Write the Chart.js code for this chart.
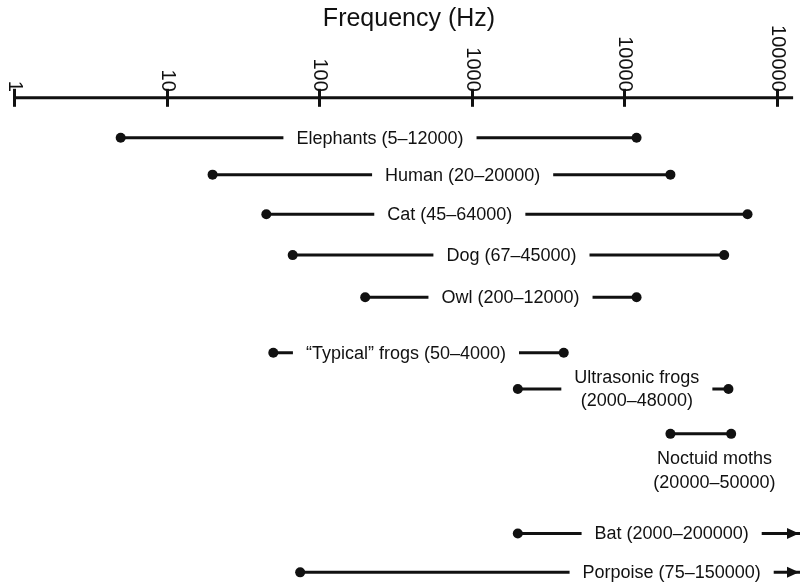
<!DOCTYPE html>
<html>
<head>
<meta charset="utf-8">
<script src="https://cdn.jsdelivr.net/npm/chart.js@4.4.1/dist/chart.umd.min.js"></script>
<style>
  html, body { margin: 0; padding: 0; background: #fff; }
  #wrap { width: 805px; height: 587px; position: relative; }
</style>
</head>
<body>
<div id="wrap"><canvas id="c"></canvas></div>
<script>
// Hearing ranges (Hz)
const animals = ['Elephants', 'Human', 'Cat', 'Dog', 'Owl', '\u201CTypical\u201D frogs',
                 'Ultrasonic frogs', 'Noctuid moths', 'Bat', 'Porpoise'];
const lowHz  = [5, 20, 45, 67, 200, 50, 2000, 20000, 2000, 75];
const highHz = [12000, 20000, 64000, 45000, 12000, 4000, 48000, 50000, 200000, 150000];

// Vertical lane of each range (grouped: mammals & birds, frogs, moths, echolocators)
const rowLevel = [0, 2.8, 5.8, 8.9, 12.1, 16.3, 19.05, 22.45, 30.0, 32.95];

// Decade ticks of the frequency axis
const tickHz = [1, 10, 100, 1000, 10000, 100000];
const tickLabels = ['1', '10', '100', '1000', '10000', '100000'];

// Label placement along the axis (Hz) and how each label is set
const labelAnchorHz = [250, 870, 717, 1817, 1791, 370, 12050, 38840, 20370, 20370];
const labelMode = { 6: 'split', 7: 'below' };

const FONT = '"Liberation Sans", Arial, Helvetica, sans-serif';
const INK = '#111';

const datasets = animals.map((name, i) => ({
  label: name,
  data: [{ x: lowHz[i], y: rowLevel[i] }, { x: highHz[i], y: rowLevel[i] }],
  showLine: true,
  borderColor: INK,
  borderWidth: 3,
  borderCapStyle: 'butt',
  pointBackgroundColor: INK,
  pointBorderWidth: 0,
  pointRadius: highHz[i] > 141000 ? [5, 0] : 5
}));

const annotations = {
  id: 'rangeAnnotations',
  afterDraw(chart) {
    const { ctx, chartArea, scales } = chart;
    const xs = scales.x, ys = scales.y;
    ctx.save();

    // frequency axis with crossing decade ticks
    const axisY = chartArea.top - 13;
    const x0 = xs.getPixelForValue(tickHz[0]);
    const x1 = xs.getPixelForValue(tickHz[tickHz.length - 1]) + 16;
    ctx.strokeStyle = INK;
    ctx.lineWidth = 3;
    ctx.beginPath();
    ctx.moveTo(x0, axisY);
    ctx.lineTo(x1, axisY);
    ctx.stroke();
    ctx.font = `20px ${FONT}`;
    ctx.fillStyle = INK;
    tickHz.forEach((v, k) => {
      const tx = Math.round(xs.getPixelForValue(v)) + 0.5;
      ctx.beginPath();
      ctx.moveTo(tx, axisY - 9);
      ctx.lineTo(tx, axisY + 9);
      ctx.stroke();
      ctx.save();
      ctx.translate(tx, axisY - 6);
      ctx.rotate(Math.PI / 2);
      ctx.textAlign = 'right';
      ctx.textBaseline = 'middle';
      ctx.fillText(tickLabels[k], 0, 0);
      ctx.restore();
    });

    // range labels
    ctx.font = `18px ${FONT}`;
    ctx.textAlign = 'center';
    ctx.textBaseline = 'middle';
    const pad = 13;
    animals.forEach((name, i) => {
      const range = `(${lowHz[i]}\u2013${highHz[i]})`;
      const px = xs.getPixelForValue(labelAnchorHz[i]);
      const py = ys.getPixelForValue(rowLevel[i]);
      const mode = labelMode[i] || 'inline';
      if (mode === 'inline') {
        const text = `${name} ${range}`;
        const w = ctx.measureText(text).width;
        ctx.fillStyle = '#fff';
        ctx.fillRect(px - w / 2 - pad, py - 7, w + 2 * pad, 14);
        ctx.fillStyle = INK;
        ctx.fillText(text, px, py + 1);
      } else if (mode === 'split') {
        const w = Math.max(ctx.measureText(name).width, ctx.measureText(range).width);
        ctx.fillStyle = '#fff';
        ctx.fillRect(px - w / 2 - pad, py - 7, w + 2 * pad, 14);
        ctx.fillStyle = INK;
        ctx.fillText(name, px, py - 11);
        ctx.fillText(range, px, py + 12);
      } else {
        ctx.fillStyle = INK;
        ctx.fillText(name, px, py + 25);
        ctx.fillText(range, px, py + 49);
      }
      // open-ended ranges run past the axis: arrow at the edge
      if (highHz[i] > xs.max) {
        const tip = chartArea.right - 1;
        ctx.fillStyle = INK;
        ctx.beginPath();
        ctx.moveTo(tip, py);
        ctx.lineTo(tip - 12, py - 5.5);
        ctx.lineTo(tip - 12, py + 5.5);
        ctx.closePath();
        ctx.fill();
      }
    });
    ctx.restore();
  }
};

new Chart(document.getElementById('c'), {
  type: 'scatter',
  data: { datasets },
  options: {
    responsive: true,
    maintainAspectRatio: false,
    animation: false,
    events: [],
    layout: { padding: { left: 14, right: 1, top: 0, bottom: 0 } },
    plugins: {
      legend: { display: false },
      tooltip: { enabled: false },
      title: {
        display: true,
        text: 'Frequency (Hz)',
        color: INK,
        font: { family: FONT, size: 25, weight: 'normal' },
        padding: { top: 4, bottom: 76.8 }
      }
    },
    scales: {
      x: {
        type: 'logarithmic',
        min: 1,
        max: 141254,
        display: false
      },
      y: {
        type: 'linear',
        reverse: true,
        min: -2.04,
        max: 33.68,
        display: false
      }
    }
  },
  plugins: [annotations]
});
</script>
</body>
</html>
